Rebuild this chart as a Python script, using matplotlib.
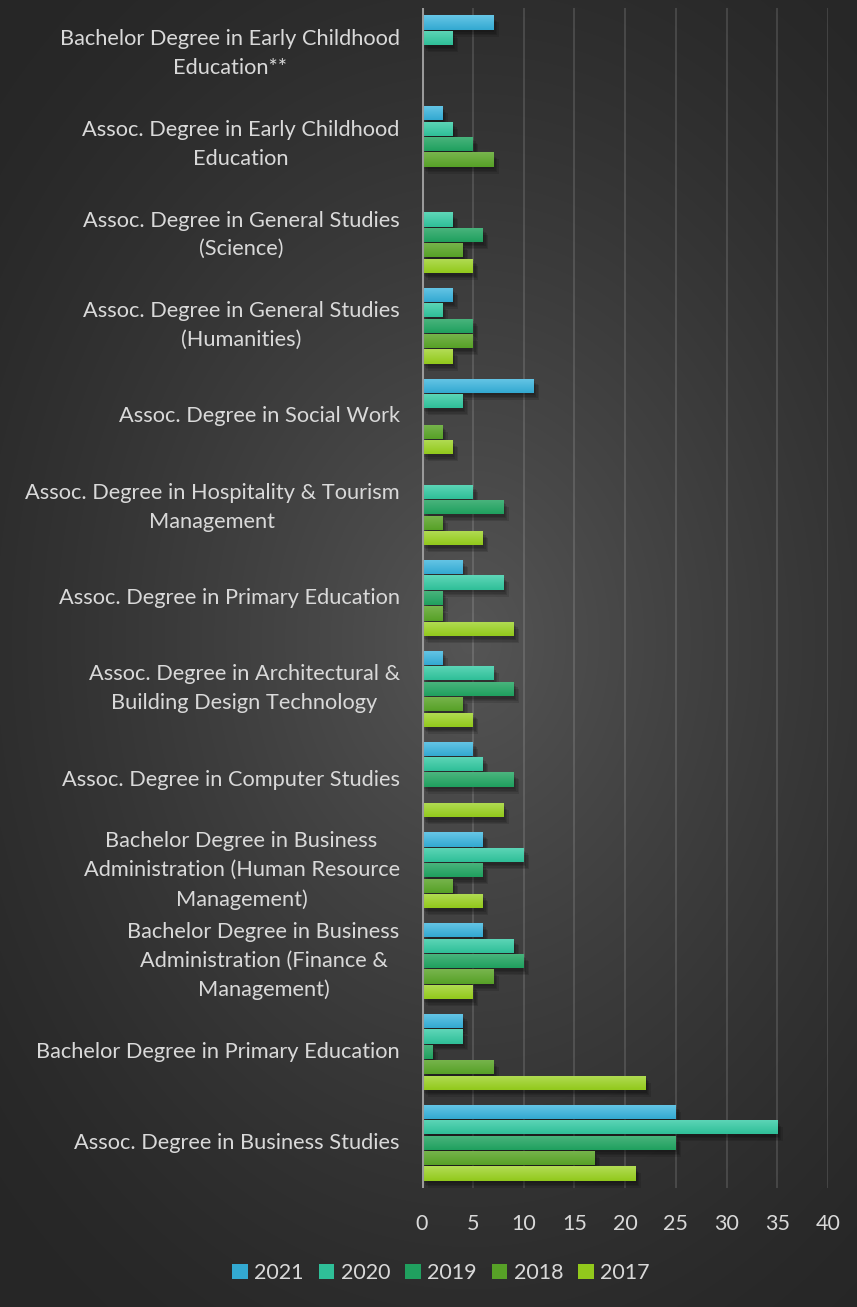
import numpy as np
import matplotlib
matplotlib.use('Agg')
import matplotlib.pyplot as plt
import matplotlib.patheffects as pe
from matplotlib.colors import to_rgb

plt.rcParams['font.family'] = ['Lato', 'DejaVu Sans']

# programmes, top to bottom as listed
programmes = [
    "Bachelor Degree in Early Childhood\nEducation**",
    "Assoc. Degree in Early Childhood\nEducation",
    "Assoc. Degree in General Studies\n(Science)",
    "Assoc. Degree in General Studies\n(Humanities)",
    "Assoc. Degree in Social Work",
    "Assoc. Degree in Hospitality & Tourism\nManagement",
    "Assoc. Degree in Primary Education",
    "Assoc. Degree in Architectural &\nBuilding Design Technology",
    "Assoc. Degree in Computer Studies",
    "Bachelor Degree in Business\nAdministration (Human Resource\nManagement)",
    "Bachelor Degree in Business\nAdministration (Finance &\nManagement)",
    "Bachelor Degree in Primary Education",
    "Assoc. Degree in Business Studies",
]

years = ["2021", "2020", "2019", "2018", "2017"]
g2021 = [7, 2, 0, 3, 11, 0, 4, 2, 5, 6, 6, 4, 25]
g2020 = [3, 3, 3, 2, 4, 5, 8, 7, 6, 10, 9, 4, 35]
g2019 = [0, 5, 6, 5, 0, 8, 2, 9, 9, 6, 10, 1, 25]
g2018 = [0, 7, 4, 5, 2, 2, 2, 4, 0, 3, 7, 7, 17]
g2017 = [0, 0, 5, 3, 3, 6, 9, 5, 8, 6, 5, 22, 21]
series = [g2021, g2020, g2019, g2018, g2017]

# (light top, dark bottom) for each year
colours = [("#67c6e6", "#33a9d1"),
           ("#5fd6b8", "#2fbf98"),
           ("#4bb57e", "#20a05f"),
           ("#78b54e", "#57a127"),
           ("#b2dc55", "#92c91c")]

W, H = 857, 1307
fig = plt.figure(figsize=(W / 100, H / 100), dpi=100)

# radial background
bg = fig.add_axes([0, 0, 1, 1], zorder=-10)
yy, xx = np.mgrid[0:H, 0:W]
r = np.sqrt(((xx - 470) / 620.0) ** 2 + ((yy - 640) / 820.0) ** 2)
r = np.clip(r, 0, 1)
edge = np.array(to_rgb("#272727"))
centre = np.array(to_rgb("#555555"))
t = (1 - r) ** 1.3
img = edge + (centre - edge) * t[..., None]
bg.imshow(img, aspect='auto', extent=(0, 1, 0, 1))
bg.axis('off')

ax = fig.add_axes([422 / W, 1 - 1188 / H, 406 / W, 1180 / H])
ax.patch.set_alpha(0)

n = len(programmes)
ypos = np.arange(n)[::-1]
h = 0.17

# soft drop shadow: a few stacked faint offsets
shadow = [pe.SimplePatchShadow(offset=(d, -d - 1), shadow_rgbFace='black', alpha=0.12)
          for d in (1, 2, 3, 4)] + [pe.Normal()]

for i, (vals, (c_top, c_bot)) in enumerate(zip(series, colours)):
    bars = ax.barh(ypos + (2 - i) * h, vals, height=h * 0.92, color=c_bot,
                   label=years[i], zorder=3, path_effects=shadow)
    grad = np.linspace(0, 1, 32)[:, None, None]
    gimg = np.array(to_rgb(c_top)) * (1 - grad) + np.array(to_rgb(c_bot)) * grad
    for b in bars:
        if b.get_width() <= 0:
            continue
        x0, y0 = b.get_x(), b.get_y()
        im = ax.imshow(gimg, aspect='auto', zorder=4, interpolation='bilinear',
                       extent=(x0, x0 + b.get_width(), y0, y0 + b.get_height()))
        im.set_clip_path(b)

ax.set_xlim(0, 40)
ax.set_ylim(-0.5, n - 0.5)
ax.set_xticks(np.arange(0, 41, 5))
ax.set_yticks([])
ax.grid(axis='x', color='white', alpha=0.13, linewidth=1.5, zorder=0)
ax.axvline(0, color='#9a9a9a', linewidth=2.2, zorder=5)
for s in ax.spines.values():
    s.set_visible(False)
ax.tick_params(axis='x', length=0, colors='#d9d9d9', labelsize=15.5, pad=19)

for y, lab in zip(ypos, programmes):
    ax.text(-2.2, y, lab, ha='right', va='center', multialignment='center',
            color='#d9d9d9', fontsize=15.7, linespacing=1.55)

leg = fig.legend(loc='center', bbox_to_anchor=(441 / W, 1 - 1273 / H), ncol=5,
                 frameon=False, fontsize=15.5, handlelength=0.72, handleheight=0.72,
                 handletextpad=0.3, columnspacing=0.7)
for txt in leg.get_texts():
    txt.set_color('#d9d9d9')
for hnd in leg.legend_handles:
    hnd.set_path_effects([])

fig.savefig('out.png', dpi=100)
